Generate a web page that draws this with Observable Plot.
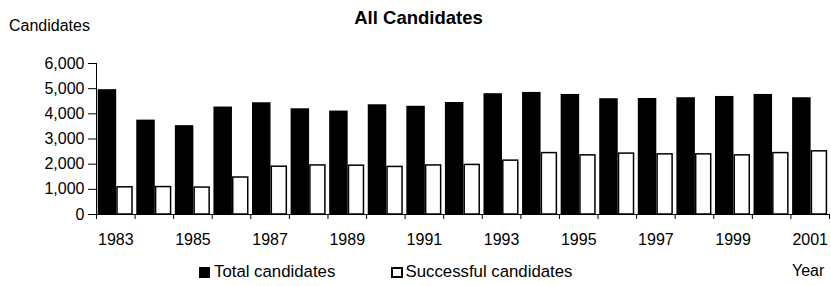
<!DOCTYPE html>
<html>
<head>
<meta charset="utf-8">
<script src="https://cdn.jsdelivr.net/npm/d3@7"></script>
<script src="https://cdn.jsdelivr.net/npm/@observablehq/plot@0.6"></script>
<style>
  html, body { margin: 0; padding: 0; background: #fff; }
  #wrap { position: relative; width: 831px; height: 286px; font-family: "Liberation Sans", Arial, sans-serif; color: #000; }
  #wrap svg { position: absolute; left: 0; top: 0; }
  .lbl { position: absolute; white-space: nowrap; line-height: 1; }
  .sq { position: absolute; box-sizing: border-box; }
</style>
</head>
<body>
<div id="wrap">
  <div class="lbl" style="left:0;width:837px;text-align:center;top:8.6px;font-size:18.5px;font-weight:bold;">All Candidates</div>
  <div class="lbl" style="left:9px;top:17.5px;font-size:16px;">Candidates</div>
  <div class="sq" style="left:199px;top:267px;width:11px;height:11px;background:#000;"></div>
  <div class="lbl" style="left:214px;top:264px;font-size:16.8px;">Total candidates</div>
  <div class="sq" style="left:391px;top:267px;width:12px;height:11px;background:#fff;border:2px solid #000;"></div>
  <div class="lbl" style="left:405.5px;top:264px;font-size:16.8px;">Successful candidates</div>
  <div class="lbl" style="left:792px;top:263px;font-size:16px;">Year</div>
</div>
<script>
const years = [1983, 1984, 1985, 1986, 1987, 1988, 1989, 1990, 1991, 1992, 1993, 1994, 1995, 1996, 1997, 1998, 1999, 2000, 2001];
const totalCandidates = [4960, 3750, 3530, 4270, 4440, 4200, 4110, 4360, 4300, 4450, 4800, 4850, 4770, 4600, 4610, 4640, 4690, 4770, 4640];
const successfulCandidates = [1080, 1090, 1070, 1470, 1900, 1950, 1940, 1890, 1950, 1970, 2140, 2440, 2350, 2420, 2390, 2390, 2350, 2440, 2510];
const yTicks = [0, 1000, 2000, 3000, 4000, 5000, 6000];
const xTickLabels = [1983, 1985, 1987, 1989, 1991, 1993, 1995, 1997, 1999, 2001];

const rows = years.map((year, i) => ({year, total: totalCandidates[i], successful: successfulCandidates[i]}));

const W = 831, H = 286, mL = 96, mR = 2, mT = 63, mB = 72;
const bw = (W - mL - mR) / years.length;
const blank = () => "";

const chart = Plot.plot({
  width: W, height: H,
  marginLeft: mL, marginRight: mR, marginTop: mT, marginBottom: mB,
  style: {fontFamily: "'Liberation Sans', Arial, sans-serif", fontSize: "16px", color: "#000", background: "transparent"},
  x: {type: "band", domain: years, padding: 0, round: false},
  y: {domain: [0, 6000]},
  marks: [
    Plot.barY(rows, {x: "year", y: "total", fill: "#000", insetLeft: 1.7, insetRight: bw - 20.2}),
    Plot.barY(rows, {x: "year", y: "successful", fill: "#fff", stroke: "#000", strokeWidth: 1.5, insetLeft: 21, insetRight: bw - 36}),
    Plot.frame({anchor: "left", stroke: "#000"}),
    Plot.ruleY([0], {stroke: "#000"}),
    Plot.axisY({ticks: yTicks, tickSize: 8, tickPadding: 4, tickFormat: d3.format(","), label: null, fontSize: 16, stroke: "#000"}),
    Plot.axisX(years, {tickSize: 5, tickFormat: blank, dx: -bw / 2, label: null, stroke: "#000"}),
    Plot.axisX([years[years.length - 1]], {tickSize: 5, tickFormat: blank, dx: bw / 2, label: null, stroke: "#000"}),
    Plot.axisX(xTickLabels, {tickSize: 0, tickPadding: 19, label: null, fontSize: 16, tickFormat: d => String(d)})
  ]
});
document.getElementById("wrap").prepend(chart);
</script>
</body>
</html>
